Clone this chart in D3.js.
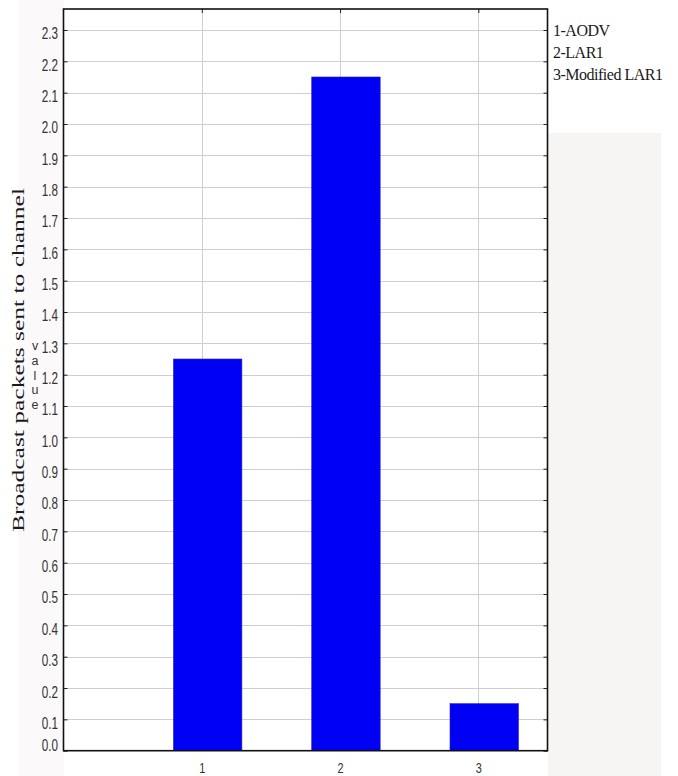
<!DOCTYPE html>
<html>
<head>
<meta charset="utf-8">
<script src="https://cdn.jsdelivr.net/npm/d3@7"></script>
<style>
  html, body { margin: 0; padding: 0; background: #ffffff; }
  svg { display: block; }
</style>
</head>
<body>
<svg id="chart" width="678" height="776"></svg>
<script>
// ---- data ----
const categories = [1, 2, 3];
const values = [1.25, 2.15, 0.15];
const yTicks = [0.0, 0.1, 0.2, 0.3, 0.4, 0.5, 0.6, 0.7, 0.8, 0.9, 1.0, 1.1, 1.2, 1.3, 1.4, 1.5, 1.6, 1.7, 1.8, 1.9, 2.0, 2.1, 2.2, 2.3];
const legendLabels = ["1-AODV", "2-LAR1", "3-Modified LAR1"];
const yTitle = "Broadcast packets sent to channel";
const yLetters = ["v", "a", "l", "u", "e"];

// ---- layout ----
const L = 63.5, R = 547.5, T = 9, B = 750.7;
const svg = d3.select("#chart");

// faint background tints of the original scan
svg.append("rect").attr("x", 548).attr("y", 133).attr("width", 113).attr("height", 643).attr("fill", "#f7f4f4");
svg.append("rect").attr("x", 18).attr("y", 0).attr("width", 46).attr("height", 776).attr("fill", "#fbf9f9");

const x = d3.scaleLinear().domain([0, 3.5]).range([L, R]);
const y = d3.scaleLinear().domain([0, 2.367]).range([B, T]);

// plot background
svg.append("rect").attr("x", L).attr("y", T).attr("width", R - L).attr("height", B - T).attr("fill", "#ffffff");

// grid lines
svg.append("g").selectAll("line.h").data(yTicks.filter(d => d > 0)).join("line")
  .attr("x1", L).attr("x2", R)
  .attr("y1", d => Math.round(y(d)) + 0.5).attr("y2", d => Math.round(y(d)) + 0.5)
  .attr("stroke", "#cfcfcf").attr("stroke-width", 1);
svg.append("g").selectAll("line.v").data(categories).join("line")
  .attr("x1", d => Math.round(x(d)) + 0.5).attr("x2", d => Math.round(x(d)) + 0.5)
  .attr("y1", T).attr("y2", B)
  .attr("stroke", "#cfcfcf").attr("stroke-width", 1);

// bars
svg.append("g").selectAll("rect").data(values).join("rect")
  .attr("x", (d, i) => x(categories[i] - 0.205))
  .attr("width", x(0.495) - x(0))
  .attr("y", d => y(d))
  .attr("height", d => y(0) - y(d))
  .attr("fill", "#0000f5")
  .attr("stroke", "#2020c8").attr("stroke-width", 0.6);

const tickFont = "'Liberation Sans', Arial, sans-serif";
const sx = 0.78;

const leftAxis = d3.axisLeft(y).tickValues(yTicks).tickSize(-4).tickFormat(d3.format(".1f"));
const gl = svg.append("g").attr("transform", `translate(${L},0)`).call(leftAxis);
gl.select(".domain").remove();
gl.selectAll(".tick line").attr("stroke", "#222");
gl.selectAll(".tick text")
  .attr("transform", `scale(${sx},1.08)`)
  .attr("x", -5.5 / sx)
  .attr("y", (d) => d === 0 ? -5 : 3.5)
  .attr("dy", "0.32em")
  .attr("fill", "#333")
  .style("font-family", tickFont).style("font-size", "15px");

const rightAxis = d3.axisRight(y).tickValues(yTicks).tickSize(-4).tickFormat("");
const gr = svg.append("g").attr("transform", `translate(${R},0)`).call(rightAxis);
gr.select(".domain").remove();
gr.selectAll(".tick line").attr("stroke", "#222");

const topAxis = d3.axisTop(x).tickValues(categories).tickSize(-4).tickFormat("");
const gt = svg.append("g").attr("transform", `translate(0,${T})`).call(topAxis);
gt.select(".domain").remove();
gt.selectAll(".tick line").attr("stroke", "#222");

const bottomAxis = d3.axisBottom(x).tickValues(categories).tickSize(0).tickPadding(0).tickFormat(d3.format("d"));
const gb = svg.append("g").attr("transform", `translate(0,${B})`).call(bottomAxis);
gb.select(".domain").remove();
gb.selectAll(".tick text").attr("fill", "#333")
  .attr("y", 17).attr("dy", "0.35em")
  .attr("transform", `scale(${sx},1)`)
  .style("font-family", tickFont).style("font-size", "14px");

// frame
svg.append("rect").attr("x", L).attr("y", T).attr("width", R - L).attr("height", B - T)
  .attr("fill", "none").attr("stroke", "#111").attr("stroke-width", 1.6);

// legend text
svg.append("g").selectAll("text").data(legendLabels).join("text")
  .attr("x", 553)
  .attr("y", (d, i) => 36 + i * 21.8)
  .text(d => d)
  .attr("fill", "#1a1a1a")
  .style("font-family", "'Liberation Serif', 'Times New Roman', serif")
  .style("font-size", "16px")
  .style("letter-spacing", "-0.5px");

// y title
svg.append("text")
  .attr("transform", "translate(24,360) rotate(-90)")
  .attr("text-anchor", "middle")
  .attr("textLength", 344)
  .attr("lengthAdjust", "spacingAndGlyphs")
  .attr("fill", "#1a1a1a")
  .style("font-family", "'Liberation Serif', 'Times New Roman', serif")
  .style("font-size", "17px")
  .text(yTitle);

// stacked "value" letters
svg.append("g").selectAll("text").data(yLetters).join("text")
  .attr("x", 35)
  .attr("y", (d, i) => 350 + i * 14.8)
  .attr("text-anchor", "middle")
  .attr("fill", "#333")
  .style("font-family", tickFont)
  .style("font-size", "12.5px")
  .text(d => d);
</script>
</body>
</html>
